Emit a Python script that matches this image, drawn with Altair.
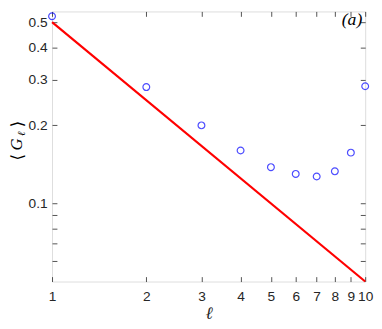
import altair as alt
import pandas as pd

# data
ell = [1, 2, 3, 4, 5, 6, 7, 8, 9, 10]
G_mean = [0.527, 0.281, 0.200, 0.160, 0.138, 0.130, 0.127, 0.133, 0.157, 0.283]
line_ell = [1, 10]
line_G = [0.5, 0.05]

x_ticks = [1, 2, 3, 4, 5, 6, 7, 8, 9, 10]
y_major = [0.1, 0.2, 0.3, 0.4, 0.5]
y_all = [0.06, 0.07, 0.08, 0.09, 0.1, 0.2, 0.3, 0.4, 0.5]

pts = pd.DataFrame({"l": ell, "G": G_mean})
ln = pd.DataFrame({"l": line_ell, "G": line_G})

xs = alt.Scale(type="log", domain=[1, 10], nice=False)
ys = alt.Scale(type="log", domain=[0.05, 0.55], nice=False)

AX = "#262626"
FONT = "Liberation Sans"
SERIF = "Liberation Serif"

points = alt.Chart(pts).mark_point(
    shape="circle", filled=False, color="#0000ff", size=48, strokeWidth=1.2
).encode(
    x=alt.X("l:Q", scale=xs, axis=alt.Axis(
        orient="bottom", values=x_ticks, format="d", ticks=False, domain=False,
        grid=False, labelFont=FONT, labelFontSize=14, labelColor=AX, labelPadding=8,
        labelFlush=False, labelOverlap=False,
        title="ℓ", titleFont=SERIF, titleFontStyle="italic",
        titleFontWeight="normal", titleFontSize=18, titleColor=AX, titlePadding=2)),
    y=alt.Y("G:Q", scale=ys, axis=alt.Axis(
        orient="left", values=y_major, format=".1f", ticks=False, domain=False,
        grid=False, labelFont=FONT, labelFontSize=14, labelColor=AX, labelPadding=5,
        labelFlush=False, labelOverlap=False, title="")),
)

line = alt.Chart(ln).mark_line(color="#ff0000", strokeWidth=2.2).encode(
    x=alt.X("l:Q", scale=xs, axis=alt.Axis(
        orient="bottom", offset=-5, values=x_ticks, labels=False, domain=False,
        grid=False, ticks=True, tickSize=5, tickColor=AX, tickWidth=0.8, title="")),
    y=alt.Y("G:Q", scale=ys, axis=alt.Axis(
        orient="left", offset=-5, values=y_all, labels=False, domain=False,
        grid=False, ticks=True, tickSize=5, tickColor=AX, tickWidth=0.8, title="")),
)

frame = alt.Chart(ln).mark_line(opacity=0).encode(
    x=alt.X("l:Q", scale=xs, axis=alt.Axis(
        orient="top", offset=-5, values=x_ticks, labels=False, domain=False,
        grid=False, ticks=True, tickSize=5, tickColor=AX, tickWidth=0.8, title="")),
    y=alt.Y("G:Q", scale=ys, axis=alt.Axis(
        orient="right", offset=-5, values=y_all, labels=False, domain=False,
        grid=False, ticks=True, tickSize=5, tickColor=AX, tickWidth=0.8, title="")),
)

one = pd.DataFrame({"k": [0]})


def txt(s, x, y, size, style="normal", angle=0, font=SERIF):
    return alt.Chart(one).mark_text(
        text=s, font=font, fontStyle=style, fontSize=size, color="#000000",
        align="center", baseline="middle", angle=angle
    ).encode(x=alt.value(x), y=alt.value(y))


label = alt.Chart(pd.DataFrame({"t": ["(a)"]})).mark_text(
    font=SERIF, fontStyle="italic", fontSize=18, color="#000000",
    align="right", baseline="middle"
).encode(text="t:N", x=alt.value(317), y=alt.value(9))

# y-axis title ⟨G_ℓ⟩ built from pieces, rotated
yt = [
    txt("⟨", -35, 149, 17, angle=270, font="DejaVu Serif"),
    txt("G", -36, 136, 17, style="italic", angle=270),
    txt("ℓ", -31, 125, 11, style="italic", angle=270, font="DejaVu Serif"),
    txt("⟩", -35, 115, 17, angle=270, font="DejaVu Serif"),
]

chart = alt.layer(frame, line, points, label, *yt).resolve_axis(
    x="independent", y="independent"
).properties(
    width=320, height=276,
    autosize=alt.AutoSizeParams(type="none"),
    padding={"left": 45, "top": 0, "right": 9, "bottom": 45},
).configure_view(stroke="#666666", strokeWidth=1).configure(background="white")

chart.save("out.html", embed_options={"renderer": "svg", "actions": False})
